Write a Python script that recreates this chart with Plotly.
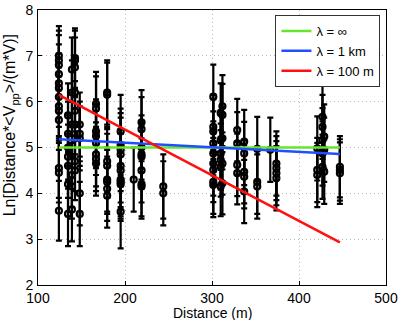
import plotly.graph_objects as go

# Distance of each cluster of measurements (m)
cluster_x = [124, 134.5, 139, 142.5, 148, 166.7, 179.5, 195, 210, 219, 244,
             301.5, 310, 312, 329, 337, 352, 367, 374, 421, 427, 429, 447]

# Ln[Distance*<Vpp>/(m*V)] values at each cluster
cluster_y = [
    [7.0, 6.9, 6.8, 6.6, 6.4, 6.3, 6.1, 5.9, 5.8, 5.6, 4.55, 4.45, 3.62],
    [5.7, 5.3, 5.0, 4.8, 4.6, 4.2, 3.55],
    [6.7, 6.2, 5.5, 4.4, 4.15, 3.65],
    [6.95, 6.9, 6.75, 6.2, 5.8, 5.5, 5.2, 4.7, 4.5],
    [5.5, 5.3, 5.2, 4.0, 3.55],
    [5.95, 5.85, 5.35, 5.25, 5.1, 4.85, 4.75, 4.65],
    [6.2, 6.15, 4.7, 4.6, 4.3, 4.25, 4.1, 3.95],
    [5.35, 5.05, 4.95, 4.85, 4.6, 4.5, 4.3, 4.25, 4.2, 3.6],
    [4.3],
    [5.55, 5.4, 5.0, 4.85, 4.8, 4.5, 4.2, 4.15],
    [4.15, 4.0],
    [6.11, 5.45, 5.35, 5.09, 4.87, 4.65, 4.51, 4.25, 4.18],
    [5.75, 5.16, 4.87, 4.73, 4.58, 4.15],
    [5.9, 5.71, 5.2, 4.65, 4.22],
    [5.38, 5.09, 4.62, 4.44],
    [5.13, 4.87, 4.47, 4.36, 4.04],
    [4.97, 4.25, 4.15],
    [4.95],
    [4.65, 4.55, 4.44, 4.33],
    [4.98, 4.51, 4.4],
    [5.67, 5.45, 5.16, 4.87, 4.58],
    [5.24, 4.95, 4.47],
    [4.58, 4.51, 4.44],
]

# Error bar half-width for each cluster
cluster_err = [0.65, 0.7, 0.7, 0.65, 0.7, 0.7, 0.7, 0.8, 0.7, 0.7, 0.7,
               0.7, 0.65, 0.68, 0.68, 0.69, 0.7, 0.7, 0.7, 0.7, 0.7, 0.7, 0.67]

# Model lines (end points)
line_x = [124, 447]
inf_y = [5.0, 5.0]
km1_y = [5.18, 4.86]
m100_y = [6.15, 2.93]

xs, ys, es = [], [], []
for cx, cy, ce in zip(cluster_x, cluster_y, cluster_err):
    for v in cy:
        xs.append(cx)
        ys.append(v)
        es.append(ce)

fig = go.Figure()

fig.add_trace(go.Scatter(
    x=xs, y=ys, mode='markers', showlegend=False,
    marker=dict(symbol='circle-open', size=6, color='black', line=dict(width=2.2, color='black')),
    error_y=dict(type='data', array=es, visible=True, color='black', thickness=2.2, width=3)
))

fig.add_trace(go.Scatter(x=line_x, y=inf_y, mode='lines', name='λ = ∞',
                         line=dict(color='#66e62a', width=2.5)))
fig.add_trace(go.Scatter(x=line_x, y=km1_y, mode='lines', name='λ = 1 km',
                         line=dict(color='#1f4fff', width=2.5)))
fig.add_trace(go.Scatter(x=line_x, y=m100_y, mode='lines', name='λ = 100 m',
                         line=dict(color='#ff1010', width=2.5)))

axis_style = dict(showline=True, mirror=True, linecolor='black', linewidth=1,
                  ticks='inside', ticklen=4, tickcolor='black', automargin=False,
                  showgrid=True, gridcolor='#b8b8b8', griddash='1px,3px', gridwidth=1,
                  zeroline=False, tickfont=dict(size=14, color='black'))

fig.update_layout(
    width=401, height=320,
    margin=dict(l=38, r=15, t=10, b=35),
    paper_bgcolor='white', plot_bgcolor='white',
    font=dict(family='Liberation Sans, Arial, sans-serif', color='black'),
    xaxis=dict(range=[100, 500], dtick=100, ticklabelstandoff=0, **axis_style),
    yaxis=dict(range=[2, 8], dtick=1, ticklabelstandoff=1, **axis_style),
    legend=dict(x=0.984, y=0.982, xanchor='right', yanchor='top',
                bgcolor='white', bordercolor='#333333', borderwidth=1,
                font=dict(size=13), tracegroupgap=0, itemwidth=30),
    annotations=[
        dict(text='Distance (m)', x=0.5, y=-0.1, xref='paper', yref='paper',
             xanchor='center', yanchor='middle', showarrow=False, font=dict(size=14)),
        dict(text='Ln[Distance*<V<sub>pp</sub>>/(m*V)]', x=-0.078, y=0.58,
             xref='paper', yref='paper', xanchor='center', yanchor='middle',
             textangle=-90, showarrow=False, font=dict(size=16)),
    ],
)

fig.write_html("out.html", config={'displayModeBar': False},
               post_script="document.body.style.margin='0';document.body.style.overflow='hidden';")
